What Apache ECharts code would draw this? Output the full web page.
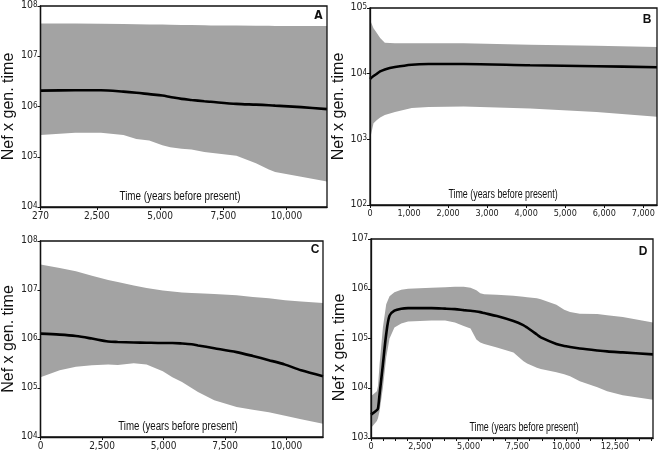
<!DOCTYPE html>
<html><head><meta charset="utf-8">
<script src="https://cdn.jsdelivr.net/npm/echarts@6/dist/echarts.min.js"></script>
<style>html,body{margin:0;padding:0;background:#fff}#c{width:661px;height:460px}</style>
</head><body><div id="c"></div>
<script>
// ---------- Panel A ----------
const yearsA  = [270, 1640, 2660, 3550, 4060, 4570, 5090, 5400, 5850, 6240, 6750, 7000, 8020, 8790, 9300, 9550, 10580, 11600];
const upperA  = [4.5e7, 4.5e7, 4.45e7, 4.4e7, 4.35e7, 4.3e7, 4.3e7, 4.25e7, 4.2e7, 4.2e7, 4.15e7, 4.1e7, 4.1e7, 4.05e7, 4.05e7, 4.0e7, 4.0e7, 4.0e7];
const medianA = [2.07e6, 2.1e6, 2.1e6, 1.98e6, 1.88e6, 1.76e6, 1.65e6, 1.55e6, 1.42e6, 1.35e6, 1.27e6, 1.24e6, 1.13e6, 1.09e6, 1.06e6, 1.04e6, 9.7e5, 8.85e5];
const lowerA  = [2.7e5, 3.0e5, 3.0e5, 2.7e5, 2.25e5, 2.1e5, 1.7e5, 1.55e5, 1.45e5, 1.4e5, 1.25e5, 1.2e5, 1.05e5, 7.4e4, 5.6e4, 5.0e4, 4.0e4, 3.2e4];
// ---------- Panel B ----------
const yearsB  = [0, 90, 170, 260, 380, 640, 1070, 1500, 2400, 4100, 5800, 7350];
const upperB  = [66000, 49000, 42000, 35000, 29500, 29000, 29000, 29000, 29000, 27500, 26500, 25500];
const medianB = [8300, 9200, 9900, 10800, 11600, 12600, 13700, 14000, 14000, 13400, 13000, 12500];
const lowerB  = [1000, 1750, 1950, 2150, 2350, 2600, 3000, 3100, 3150, 2950, 2600, 2200];
// ---------- Panel C ----------
const yearsC  = [0, 780, 1440, 2090, 2750, 3140, 3790, 4310, 4970, 5360, 5750, 6140, 6400, 7060, 7970, 8630, 9280, 9940, 10590, 11480];
const upperC  = [3.3e7, 2.8e7, 2.4e7, 1.95e7, 1.6e7, 1.45e7, 1.23e7, 1.1e7, 9.8e6, 9.3e6, 8.9e6, 8.7e6, 8.6e6, 8.3e6, 7.8e6, 7.2e6, 6.8e6, 6.2e6, 5.8e6, 5.4e6];
const medianC = [1.29e6, 1.23e6, 1.15e6, 1.02e6, 8.9e5, 8.7e5, 8.5e5, 8.4e5, 8.3e5, 8.3e5, 8.1e5, 7.8e5, 7.4e5, 6.5e5, 5.4e5, 4.5e5, 3.7e5, 3.0e5, 2.3e5, 1.74e5];
const lowerC  = [1.66e5, 2.3e5, 2.7e5, 2.9e5, 3.0e5, 2.95e5, 3.2e5, 3.0e5, 2.2e5, 1.66e5, 1.32e5, 1.0e5, 8.3e4, 5.6e4, 4.1e4, 3.6e4, 3.2e4, 2.7e4, 2.3e4, 1.86e4];
// ---------- Panel D ----------
const yearsD  = [0, 300, 360, 440, 610, 780, 950, 1200, 1550, 1900, 3100, 3800, 4300, 4750, 5100, 5400, 5600, 5800, 6450, 7300, 7800, 8000, 8500, 8700, 9500, 9900, 10200, 10700, 11600, 12100, 12900, 14450];
const upperD  = [6900, 8700, 11200, 30200, 166000, 490000, 708000, 851000, 955000, 1.0e6, 1.05e6, 1.07e6, 1.1e6, 1.1e6, 1.05e6, 933000, 813000, 776000, 759000, 724000, 692000, 676000, 646000, 617000, 479000, 380000, 339000, 316000, 309000, 295000, 269000, 209000];
const medianD = [2950, 3630, 3980, 7600, 30200, 123000, 288000, 363000, 398000, 407000, 407000, 398000, 389000, 372000, 360000, 350000, 339000, 324000, 282000, 224000, 186000, 166000, 120000, 105000, 77600, 70800, 67600, 63100, 57500, 55000, 52500, 47900];
const lowerD  = [1580, 2190, 2510, 3470, 10200, 41700, 100000, 166000, 200000, 219000, 229000, 229000, 209000, 178000, 158000, 95500, 83200, 77600, 66100, 52500, 35500, 31600, 25700, 24500, 20900, 19100, 17400, 13800, 10500, 8710, 7240, 5890];

// ---------- Tick labels & text ----------
const xTicksA = [270, 2500, 5000, 7500, 10000];
const xTicksB = [0, 1000, 2000, 3000, 4000, 5000, 6000, 7000];
const xTicksC = [0, 2500, 5000, 7500, 10000];
const xTicksD = [0, 2500, 5000, 7500, 10000, 12500];
const xTickMarksD = [0, 625, 1250, 1875, 2500, 3125, 3750, 4375, 5000, 5625, 6250, 6875, 7500, 8125, 8750, 9375, 10000, 10625, 11250, 11875, 12500, 13125, 13750, 14375];
const panelLetters = ['A', 'B', 'C', 'D'];
const xAxisTitle = 'Time (years before present)';
const yAxisTitle = 'Nef x gen. time';

const NARROW = '"Liberation Sans Narrow","Arial Narrow","DejaVu Sans Condensed",sans-serif';
const SANS = '"Liberation Sans",Arial,Helvetica,sans-serif';

const panels = [
  {years: yearsA, up: upperA, med: medianA, lo: lowerA, ticks: xTicksA, tickMarks: xTicksA, xmin: 270, xmax: 11600, ymin: 1e4, ymax: 1e8,
   grid: {left: 31, top: 5, width: 296, height: 202}, tickFont: 10, yPad: [0,0,0,0],
   title: {x: 180, y: 197, sx: 0.82},
   letter: {x: 318.5, y: 16, font: 'bold 12px ' + NARROW}},
  {years: yearsB, up: upperB, med: medianB, lo: lowerB, ticks: xTicksB, tickMarks: xTicksB, xmin: 0, xmax: 7350, ymin: 1e2, ymax: 1e5,
   grid: {left: 370, top: 8, width: 287, height: 197}, tickFont: 9, yPad: [0,0,0,0],
   title: {x: 503, y: 195, sx: 0.74},
   letter: {x: 647, y: 19.5, font: 'bold 12px ' + SANS}},
  {years: yearsC, up: upperC, med: medianC, lo: lowerC, ticks: xTicksC, tickMarks: xTicksC, xmin: 0, xmax: 11480, ymin: 1e4, ymax: 1e8,
   grid: {left: 30, top: 241, width: 293, height: 196}, tickFont: 10, yPad: [0,0,0,0],
   title: {x: 178, y: 427, sx: 0.81},
   letter: {x: 315, y: 249.5, font: 'bold 12px ' + SANS}},
  {years: yearsD, up: upperD, med: medianD, lo: lowerD, ticks: xTicksD, tickMarks: xTickMarksD, xmin: 0, xmax: 14450, ymin: 1e3, ymax: 1e7,
   grid: {left: 371, top: 239, width: 282, height: 199}, tickFont: 9, yPad: [0,18,0,0],
   title: {x: 524, y: 428, sx: 0.74},
   letter: {x: 643, y: 251.5, font: 'bold 12px ' + SANS}}
];

const fmtNum = v => v.toLocaleString('en-US');

const grids = [], xAxes = [], yAxes = [], series = [], graphics = [];
panels.forEach((p, i) => {
  grids.push(Object.assign({show: true, borderColor: '#111', borderWidth: 1.3, backgroundColor: 'transparent', z: 10}, p.grid));
  xAxes.push({
    type: 'value', gridIndex: i, min: p.xmin, max: p.xmax, z: 10,
    axisLine: {show: true, lineStyle: {color: '#111', width: 1.3}},
    axisTick: {show: true, length: 3, customValues: p.tickMarks, lineStyle: {color: '#111'}},
    axisLabel: {customValues: p.ticks, formatter: fmtNum, margin: 4, fontFamily: NARROW, fontSize: p.tickFont, color: '#222'},
    splitLine: {show: false}
  });
  yAxes.push({
    type: 'log', logBase: 10, gridIndex: i, min: p.ymin, max: p.ymax, z: 10,
    name: yAxisTitle, nameLocation: 'middle', nameGap: 14,
    nameTextStyle: {fontFamily: SANS, fontSize: 16, color: '#111', padding: p.yPad},
    axisLine: {show: true, lineStyle: {color: '#111', width: 1.3}},
    axisTick: {show: true, length: 3, lineStyle: {color: '#111'}},
    axisLabel: {
      margin: 3,
      formatter: v => '{b|10}{s|' + Math.round(Math.log10(v)) + '}',
      rich: {
        b: {fontFamily: NARROW, fontSize: 10.5, color: '#222', lineHeight: 10, verticalAlign: 'bottom'},
        s: {fontFamily: NARROW, fontSize: 8, color: '#222', lineHeight: 8, verticalAlign: 'top', padding: [0, 0, 6, 0]}
      }
    },
    splitLine: {show: false}
  });
  series.push({
    type: 'custom', xAxisIndex: i, yAxisIndex: i, silent: true, z: 1,
    data: [[p.years[0], p.up[0]]],
    renderItem: (params, api) => {
      const pts = [];
      for (let k = 0; k < p.years.length; k++) pts.push(api.coord([p.years[k], p.up[k]]));
      for (let k = p.years.length - 1; k >= 0; k--) pts.push(api.coord([p.years[k], p.lo[k]]));
      return {type: 'polygon', shape: {points: pts}, style: {fill: '#a3a3a3', stroke: null}};
    }
  });
  series.push({
    type: 'line', xAxisIndex: i, yAxisIndex: i, z: 3, silent: true,
    data: p.years.map((y, k) => [y, p.med[k]]),
    smooth: 0.3, showSymbol: false,
    lineStyle: {color: '#000', width: 2.6}
  });
  graphics.push({
    type: 'text', x: p.title.x, y: p.title.y, scaleX: p.title.sx, z: 20,
    style: {text: xAxisTitle, font: '12px ' + SANS, fill: '#111', textAlign: 'center', textVerticalAlign: 'middle'}
  });
  graphics.push({
    type: 'text', x: p.letter.x, y: p.letter.y, z: 20,
    style: {text: panelLetters[i], font: p.letter.font, fill: '#111', textAlign: 'center', textVerticalAlign: 'middle'}
  });
});

const chart = echarts.init(document.getElementById('c'), null, {renderer: 'canvas'});
chart.setOption({
  animation: false,
  backgroundColor: '#fff',
  grid: grids, xAxis: xAxes, yAxis: yAxes, series: series,
  graphic: graphics
});
</script></body></html>
